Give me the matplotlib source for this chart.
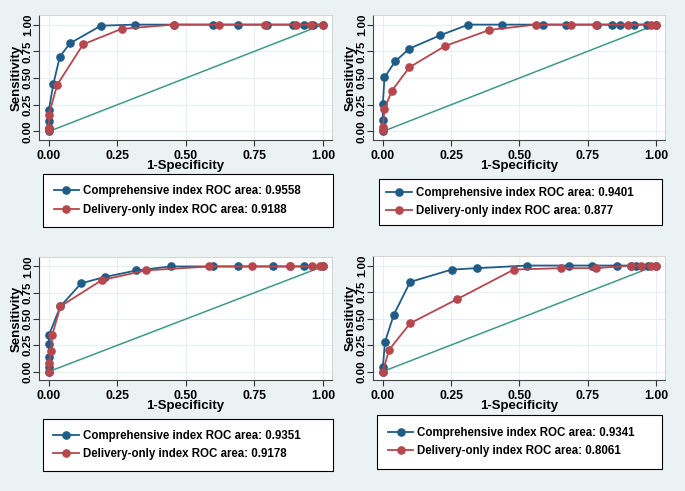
import numpy as np
import matplotlib.pyplot as plt
from matplotlib.lines import Line2D

plt.rcParams['font.family'] = ['Liberation Sans', 'DejaVu Sans']
plt.rcParams['font.weight'] = 'bold'

# panel 1 (top left)
p1_comp_x = [0, 0, 0, 0, 0.016, 0.04, 0.077, 0.19, 0.315, 0.455, 0.60, 0.69, 0.795, 0.89, 0.93, 0.965, 1]
p1_comp_y = [0, 0.03, 0.10, 0.20, 0.44, 0.70, 0.825, 0.99, 1, 1, 1, 1, 1, 1, 1, 1, 1]
p1_del_x = [0, 0, 0, 0.03, 0.125, 0.265, 0.455, 0.62, 0.79, 0.90, 0.955, 1]
p1_del_y = [0.01, 0.03, 0.155, 0.435, 0.815, 0.96, 1, 1, 1, 1, 1, 1]

# panel 2 (top right)
p2_comp_x = [0, 0, 0, 0.006, 0.045, 0.097, 0.21, 0.313, 0.436, 0.585, 0.67, 0.785, 0.84, 0.87, 0.92, 0.967, 1]
p2_comp_y = [0, 0.11, 0.255, 0.505, 0.655, 0.775, 0.90, 1, 1, 1, 1, 1, 1, 1, 1, 1, 1]
p2_del_x = [0, 0, 0.006, 0.033, 0.097, 0.228, 0.39, 0.56, 0.69, 0.78, 0.897, 0.98, 1]
p2_del_y = [0.01, 0.04, 0.21, 0.38, 0.60, 0.80, 0.95, 1, 1, 1, 1, 1, 1]

# panel 3 (bottom left)
p3_comp_x = [0, 0, 0, 0, 0, 0.042, 0.118, 0.205, 0.319, 0.445, 0.60, 0.69, 0.816, 0.88, 0.93, 1]
p3_comp_y = [0, 0.04, 0.14, 0.26, 0.345, 0.62, 0.84, 0.90, 0.962, 1, 1, 1, 1, 1, 1, 1]
p3_del_x = [0, 0, 0.008, 0.012, 0.042, 0.193, 0.353, 0.586, 0.74, 0.88, 0.96, 0.99, 1]
p3_del_y = [0, 0.08, 0.20, 0.345, 0.62, 0.87, 0.962, 1, 1, 1, 1, 1, 1]

# panel 4 (bottom right)
p4_comp_x = [0, 0, 0.008, 0.04, 0.10, 0.252, 0.345, 0.528, 0.68, 0.766, 0.857, 0.91, 0.928, 0.97, 1]
p4_comp_y = [0, 0.04, 0.28, 0.535, 0.845, 0.962, 0.975, 1, 1, 1, 1, 1, 1, 1, 1]
p4_del_x = [0, 0.023, 0.10, 0.27, 0.48, 0.651, 0.78, 0.91, 0.946, 0.98, 1]
p4_del_y = [0, 0.205, 0.455, 0.68, 0.962, 0.975, 0.975, 1, 1, 1, 1]

comp_auc = ['0.9558', '0.9401', '0.9351', '0.9341']
del_auc = ['0.9188', '0.877', '0.9178', '0.8061']

ticks = [0, 0.25, 0.5, 0.75, 1]
tick_labels = ['0.00', '0.25', '0.50', '0.75', '1.00']

blue = '#1f5c88'
red = '#b5474d'
teal = '#3e9a88'
bg = '#eaf2f3'

W, H = 685, 491
fig = plt.figure(figsize=(6.85, 4.91), dpi=100, facecolor=bg)

# axes frames in pixels: left, top, right, bottom ; legend boxes: left, top, right, bottom
frames = [(39, 15, 332, 140), (373, 15, 665, 140), (39, 257, 332, 380), (373, 256, 665, 380)]
legends = [(43, 177, 333, 224), (379, 182, 662, 222), (43, 422, 333, 468), (377, 418, 662, 466)]
leg_pads = [0.92, 0.62, 0.88, 0.96]

data = [(p1_comp_x, p1_comp_y, p1_del_x, p1_del_y),
        (p2_comp_x, p2_comp_y, p2_del_x, p2_del_y),
        (p3_comp_x, p3_comp_y, p3_del_x, p3_del_y),
        (p4_comp_x, p4_comp_y, p4_del_x, p4_del_y)]

ms = 5.2
for i in range(4):
    l, t, r, b = frames[i]
    ax = fig.add_axes([l / W, 1 - b / H, (r - l) / W, (b - t) / H])
    ax.set_facecolor('white')
    cx, cy, dx, dy = data[i]
    ax.plot([0, 1], [0, 1], color=teal, lw=1.1, zorder=2)
    ax.plot(cx, cy, color=blue, lw=1.3, marker='o', ms=ms, zorder=3, clip_on=False)
    ax.plot(dx, dy, color=red, lw=1.3, marker='o', ms=ms, zorder=4, clip_on=False)
    ax.set_xlim(-0.036, 1.033)
    ax.set_ylim(-0.08, 1.09)
    ax.set_xticks(ticks)
    ax.set_xticklabels(tick_labels, fontsize=8.8, fontweight='bold')
    ax.set_yticks(ticks)
    ax.set_yticklabels(tick_labels, fontsize=8.2, fontweight='bold', rotation=90, va='center')
    ax.grid(True, color='#e6eff1', lw=0.8, zorder=0)
    ax.tick_params(length=4, width=0.8, color='#333333')
    ax.tick_params(axis='x', pad=3)
    ax.tick_params(axis='y', pad=0.5)
    for s in ['left', 'bottom']:
        ax.spines[s].set_color('#444444')
        ax.spines[s].set_linewidth(0.8)
    for s in ['top', 'right']:
        ax.spines[s].set_color('#cccccc')
        ax.spines[s].set_linewidth(0.6)
    ax.set_xlabel('1-Specificity', fontsize=9.5, fontweight='bold', labelpad=-1)
    ax.set_ylabel('Sensitivity', fontsize=9.5, fontweight='bold', labelpad=0)

    ll, lt, lr, lb = legends[i]
    handles = [Line2D([], [], color=blue, lw=1.3, marker='o', ms=ms),
               Line2D([], [], color=red, lw=1.3, marker='o', ms=ms)]
    labels = ['Comprehensive index ROC area: ' + comp_auc[i],
              'Delivery-only index ROC area: ' + del_auc[i]]
    leg = fig.legend(handles, labels, loc='center left',
                     bbox_to_anchor=(ll / W, 1 - lb / H, (lr - ll) / W, (lb - lt) / H),
                     bbox_transform=fig.transFigure, mode='expand',
                     prop={'size': 8.3, 'weight': 'bold'}, fancybox=False,
                     edgecolor='black', framealpha=1, borderpad=leg_pads[i],
                     handlelength=2.2, handletextpad=0.35, labelspacing=0.6,
                     borderaxespad=0)
    leg.get_frame().set_linewidth(0.8)

fig.savefig('out.png', dpi=100, facecolor=bg)
